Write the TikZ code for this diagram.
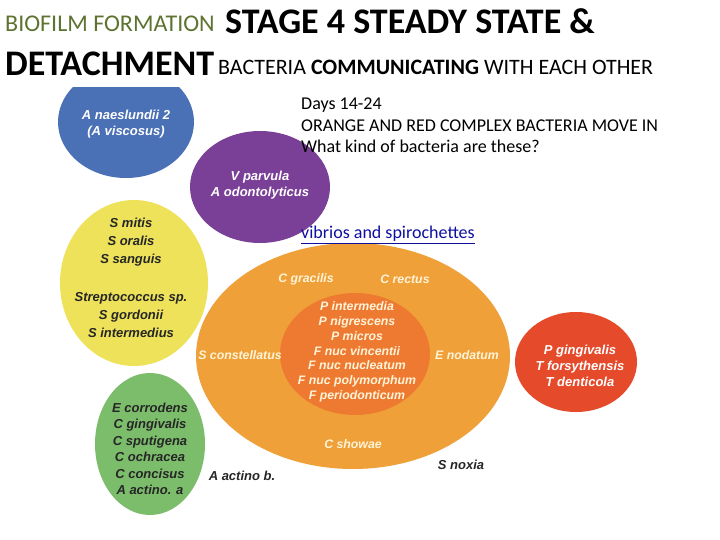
\documentclass[tikz,border=0pt]{standalone}
\usepackage{fontspec}
\setmainfont{Carlito}
\newfontfamily\lab{Liberation Sans}
\usetikzlibrary{shapes.geometric}
\definecolor{cblue}{HTML}{4A70B6}
\definecolor{cpurple}{HTML}{7A3F96}
\definecolor{cyellow}{HTML}{EEE25A}
\definecolor{corange}{HTML}{F0A038}
\definecolor{cinner}{HTML}{EE7A32}
\definecolor{cred}{HTML}{E54A2A}
\definecolor{cgreen}{HTML}{7CBD6C}
\definecolor{colive}{HTML}{5E7330}
\definecolor{clink}{HTML}{1010A0}
\definecolor{cpale}{HTML}{FFF4D8}
\tikzset{
  blob/.style={ellipse, inner sep=0pt, draw=none},
  wlab/.style={font=\lab\bfseries\itshape\fontsize{13}{16}\selectfont, text=white, align=center, inner sep=0pt},
  dlab/.style={font=\lab\bfseries\itshape\fontsize{13}{17.7}\selectfont, text=black!85, align=center, inner sep=0pt},
  olab/.style={font=\lab\bfseries\itshape\fontsize{12.3}{14.8}\selectfont, text=cpale, align=center, inner sep=0pt},
  body/.style={font=\fontsize{18}{21.5}\selectfont, anchor=base west, align=left, inner sep=0pt},
  ttl/.style={anchor=base west, inner sep=0pt},
}
\begin{document}
\begin{tikzpicture}[x=1pt,y=-1pt]
\useasboundingbox (0,0) rectangle (720,540);
\fill[white] (0,0) rectangle (720,540);
% title
\node[ttl, font=\fontsize{24}{28}\selectfont, text=colive] (t1) at (5,32) {BIOFILM FORMATION};
\node[ttl, font=\bfseries\fontsize{36}{42}\selectfont] (t2) at (225,34) {STAGE 4 STEADY STATE \&};
\node[ttl, font=\bfseries\fontsize{36}{42}\selectfont] (t3) at (5,76) {DETACHMENT};
\node[ttl, font=\fontsize{22}{26}\selectfont] (t4) at (218,75) {BACTERIA \textbf{COMMUNICATING} WITH EACH OTHER};
% blobs
\begin{scope}
\clip (0,88) rectangle (720,540);
\node[blob, fill=cblue, minimum width=136pt, minimum height=112pt] (blue) at (126,122) {};
\end{scope}
\node[blob, fill=cpurple, minimum width=140pt, minimum height=112pt] (purple) at (260,187) {};
\node[blob, fill=cyellow, minimum width=148pt, minimum height=166pt] (yellow) at (134,283) {};
\node[blob, fill=corange, minimum width=314pt, minimum height=226pt] (orange) at (353,356) {};
\node[blob, fill=cinner, minimum width=150pt, minimum height=122pt] (inner) at (355,354) {};
\node[blob, fill=cred, minimum width=122pt, minimum height=100pt] (red) at (576,362) {};
\node[blob, fill=cgreen, minimum width=110pt, minimum height=142pt] (green) at (150,444) {};
% labels
\node[wlab] (lblue) at (126,124) {A naeslundii 2\\(A viscosus)};
\node[wlab] (lpurple) at (260,185) {V parvula\\A odontolyticus};
\node[dlab] (ly1) at (131,242) {S mitis\\S oralis\\S sanguis};
\node[dlab] (ly2) at (131,315) {Streptococcus sp.\\S gordonii\\S intermedius};
\node[olab] (lo1) at (306,279) {C gracilis};
\node[olab] (lo2) at (405,279) {C rectus};
\node[olab] (lo3) at (240,355) {S constellatus};
\node[olab] (lo4) at (467,355) {E nodatum};
\node[olab] (lo5) at (353,444) {C showae};
\node[olab] (linner) at (357,352) {P intermedia\\P nigrescens\\P micros\\F nuc vincentii\\F nuc nucleatum\\F nuc polymorphum\\F periodonticum};
\node[wlab] (lred) at (580,366) {P gingivalis\\T forsythensis\\T denticola};
\node[dlab, font=\lab\bfseries\itshape\fontsize{13}{16.5}\selectfont] (lgreen) at (150,449) {E corrodens\\C gingivalis\\C sputigena\\C ochracea\\C concisus\\A actino. a};
\node[dlab] (lab1) at (242,476) {A actino b.};
\node[dlab] (lab2) at (461,465) {S noxia};
% text box
\node[body] (txt) at (301,153) {Days 14-24\\ORANGE AND RED COMPLEX BACTERIA MOVE IN\\What kind of bacteria are these?};
\node[body, text=clink] (link) at (301,239) {\underline{vibrios and spirochettes}};
\end{tikzpicture}
\end{document}
